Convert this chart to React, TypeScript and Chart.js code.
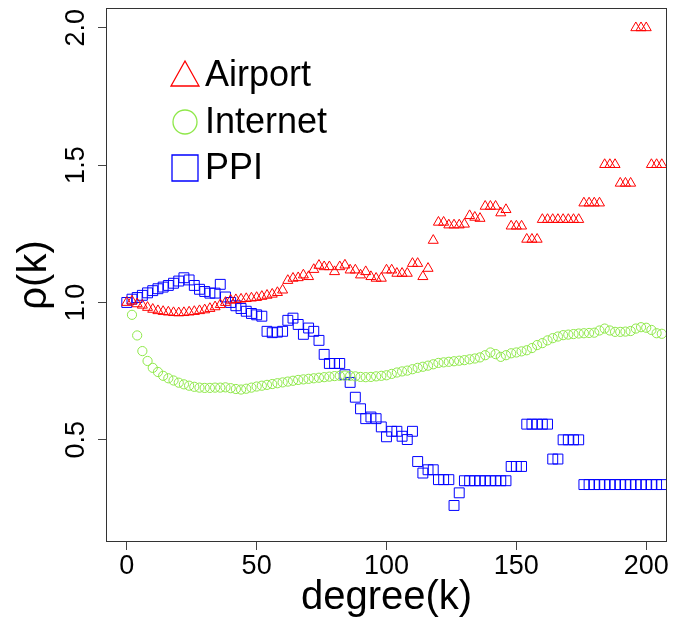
import React, { useEffect, useRef } from 'react';
import { Chart, registerables } from 'chart.js';

Chart.register(...registerables);

const degrees = [
  0, 2, 4, 6, 8, 10, 12, 14, 16, 18, 20, 22, 24, 26, 28, 30, 32, 34, 36, 38,
  40, 42, 44, 46, 48, 50, 52, 54, 56, 58, 60, 62, 64, 66, 68, 70, 72, 74, 76, 78,
  80, 82, 84, 86, 88, 90, 92, 94, 96, 98, 100, 102, 104, 106, 108, 110, 112, 114, 116, 118,
  120, 122, 124, 126, 128, 130, 132, 134, 136, 138, 140, 142, 144, 146, 148, 150, 152, 154, 156, 158,
  160, 162, 164, 166, 168, 170, 172, 174, 176, 178, 180, 182, 184, 186, 188, 190, 192, 194, 196, 198,
  200, 202, 204, 206,
];

const airport = [
  1.0, 1.005, 0.995, 0.99, 0.982, 0.975, 0.97, 0.967, 0.965, 0.963, 0.962, 0.963, 0.965, 0.967, 0.97, 0.973, 0.978, 0.984, 0.992, 1.0,
  1.008, 1.01, 1.012, 1.014, 1.016, 1.018, 1.022, 1.026, 1.03, 1.036, 1.045, 1.08, 1.088, 1.09, 1.1, 1.094, 1.12, 1.135, 1.13, 1.13,
  1.112, 1.13, 1.136, 1.118, 1.118, 1.1, 1.112, 1.094, 1.088, 1.088, 1.118, 1.118, 1.106, 1.106, 1.106, 1.142, 1.142, 1.094, 1.124, 1.226,
  1.292, 1.292, 1.282, 1.282, 1.282, 1.285, 1.316, 1.31, 1.306, 1.35, 1.35, 1.35, 1.326, 1.338, 1.278, 1.278, 1.278, 1.23, 1.23, 1.23,
  1.302, 1.302, 1.302, 1.302, 1.302, 1.302, 1.302, 1.302, 1.362, 1.362, 1.362, 1.362, 1.502, 1.502, 1.502, 1.434, 1.434, 1.434, 2.0, 2.0,
  2.0, 1.502, 1.502, 1.502,
];

const internet = [
  null, 0.955, 0.88, 0.823, 0.787, 0.762, 0.747, 0.733, 0.724, 0.716, 0.708, 0.702, 0.697, 0.693, 0.69, 0.689, 0.689, 0.69, 0.69, 0.691,
  0.688, 0.685, 0.683, 0.686, 0.69, 0.694, 0.697, 0.7, 0.703, 0.706, 0.709, 0.712, 0.715, 0.718, 0.72, 0.722, 0.724, 0.726, 0.728, 0.73,
  0.732, 0.733, 0.734, 0.733, 0.731, 0.729, 0.728, 0.729, 0.731, 0.733, 0.735, 0.74, 0.745, 0.749, 0.752, 0.757, 0.762, 0.766, 0.77, 0.775,
  0.78, 0.782, 0.784, 0.786, 0.788, 0.79, 0.793, 0.796, 0.8, 0.808, 0.818, 0.812, 0.802, 0.808, 0.815, 0.818, 0.822, 0.826, 0.834, 0.845,
  0.852, 0.862, 0.87, 0.876, 0.881, 0.883, 0.885, 0.887, 0.888, 0.889, 0.89, 0.898, 0.905, 0.898, 0.893, 0.893, 0.894, 0.896, 0.905, 0.91,
  0.908, 0.9, 0.888, 0.886,
];

const ppi = [
  1.0, 1.012, 1.018, 1.026, 1.035, 1.043, 1.05, 1.056, 1.062, 1.07, 1.078, 1.09, 1.082, 1.062, 1.048, 1.04, 1.034, 1.034, 1.066, 1.02,
  1.0, 0.988, 0.978, 0.968, 0.96, 0.955, 0.95, 0.895, 0.89, 0.892, 0.895, 0.935, 0.943, 0.92, 0.884, 0.907, 0.895, 0.862, 0.811, 0.778,
  0.778, 0.778, 0.737, 0.709, 0.655, 0.613, 0.577, 0.583, 0.577, 0.547, 0.511, 0.531, 0.531, 0.513, 0.501, 0.531, 0.421, 0.379, 0.391, 0.391,
  0.355, 0.355, 0.355, 0.261, 0.307, 0.351, 0.351, 0.351, 0.351, 0.351, 0.351, 0.351, 0.351, 0.351, 0.403, 0.403, 0.403, 0.557, 0.557, 0.557,
  0.557, 0.557, 0.43, 0.43, 0.5, 0.5, 0.5, 0.5, 0.337, 0.337, 0.337, 0.337, 0.337, 0.337, 0.337, 0.337, 0.337, 0.337, 0.337, 0.337,
  0.337, 0.337, 0.337, 0.337,
];

const xTicks = [0, 50, 100, 150, 200];
const yTicks = [0.5, 1.0, 1.5, 2.0];
const seriesNames = ['Airport', 'Internet', 'PPI'];
const seriesColors = ['#FF0000', '#8FE84A', '#0000FF'];
const seriesShapes = ['triangle', 'circle', 'rect'];

const FONT = '"Liberation Sans", Arial, Helvetica, sans-serif';

export default function App() {
  const ref = useRef<HTMLCanvasElement>(null);

  useEffect(() => {
    document.body.style.margin = '0';
    const canvas = ref.current;
    if (!canvas) return;

    const toPoints = (ys: (number | null)[]) =>
      degrees.map((x, i) => ({ x, y: ys[i] })).filter((p) => p.y !== null);

    const boxPlugin = {
      id: 'rbox',
      afterDatasetsDraw(chart: any) {
        const { ctx, chartArea: a } = chart;
        ctx.save();
        ctx.strokeStyle = '#333';
        ctx.lineWidth = 1;
        ctx.strokeRect(Math.round(a.left) + 0.5, Math.round(a.top) + 0.5,
          Math.round(a.right - a.left) - 1, Math.round(a.bottom - a.top) - 1);
        ctx.restore();
      },
    };

    const legendPlugin = {
      id: 'rlegend',
      afterDraw(chart: any) {
        const ctx = chart.ctx;
        ctx.save();
        const cx = 185;
        const rows = [75, 122, 168];
        seriesNames.forEach((name, i) => {
          const cy = rows[i];
          ctx.strokeStyle = seriesColors[i];
          ctx.lineWidth = 1.3;
          ctx.beginPath();
          if (seriesShapes[i] === 'triangle') {
            ctx.moveTo(cx, cy - 14);
            ctx.lineTo(cx - 14, cy + 11);
            ctx.lineTo(cx + 14, cy + 11);
            ctx.closePath();
          } else if (seriesShapes[i] === 'circle') {
            ctx.arc(cx, cy, 12, 0, Math.PI * 2);
          } else {
            ctx.rect(cx - 13, cy - 13, 26, 26);
          }
          ctx.stroke();
          ctx.fillStyle = '#000';
          ctx.font = `36px ${FONT}`;
          ctx.textBaseline = 'middle';
          ctx.textAlign = 'left';
          ctx.fillText(name, 205, cy + 1);
        });
        ctx.restore();
      },
    };

    const radii = [5.8, 4.6, 7];

    const chart = new Chart(canvas, {
      type: 'scatter',
      data: {
        datasets: [airport, internet, ppi].map((ys, i) => ({
          label: seriesNames[i],
          data: toPoints(ys),
          pointStyle: seriesShapes[i] as any,
          pointRadius: radii[i],
          pointHoverRadius: radii[i],
          pointBorderColor: seriesColors[i],
          pointBackgroundColor: 'rgba(0,0,0,0)',
          pointBorderWidth: 1,
          borderColor: seriesColors[i],
          backgroundColor: 'rgba(0,0,0,0)',
          showLine: false,
        })),
      },
      options: {
        responsive: false,
        animation: false,
        devicePixelRatio: 1,
        events: [],
        layout: { padding: { top: 5, right: 7, left: 0, bottom: 0 } },
        plugins: {
          legend: { display: false },
          tooltip: { enabled: false },
        },
        scales: {
          x: {
            type: 'linear',
            min: -8,
            max: 208,
            afterBuildTicks: (s: any) => {
              s.ticks = xTicks.map((v) => ({ value: v }));
            },
            afterFit: (s: any) => {
              s.height = 80;
              s.paddingLeft = 0;
              s.paddingRight = 0;
            },
            grid: {
              display: true,
              drawOnChartArea: false,
              drawTicks: true,
              tickLength: 8,
              color: '#444',
              lineWidth: 1,
            },
            border: { display: false },
            ticks: {
              font: { family: FONT, size: 27 },
              color: '#000',
              padding: 0,
              maxRotation: 0,
              autoSkip: false,
              callback: (v: any) => String(v),
            },
            title: {
              display: true,
              text: 'degree(k)',
              font: { family: FONT, size: 40 },
              color: '#000',
              padding: 0,
            },
          },
          y: {
            type: 'linear',
            min: 0.128,
            max: 2.072,
            afterBuildTicks: (s: any) => {
              s.ticks = yTicks.map((v) => ({ value: v }));
            },
            afterFit: (s: any) => {
              s.width = 106;
              s.paddingTop = 0;
              s.paddingBottom = 0;
            },
            grid: {
              display: true,
              drawOnChartArea: false,
              drawTicks: true,
              tickLength: 8,
              color: '#444',
              lineWidth: 1,
            },
            border: { display: false },
            ticks: {
              font: { family: FONT, size: 27 },
              color: '#000',
              padding: 3,
              minRotation: 90,
              maxRotation: 90,
              crossAlign: 'center',
              autoSkip: false,
              callback: (v: any) => Number(v).toFixed(1),
            },
            title: {
              display: true,
              text: 'ρ(k)',
              font: { family: FONT, size: 40 },
              color: '#000',
              padding: { top: 11, bottom: 0 },
            },
          },
        },
      },
      plugins: [boxPlugin, legendPlugin],
    });

    return () => chart.destroy();
  }, []);

  return <canvas ref={ref} width={675} height={622} style={{ display: 'block', width: 675, height: 622 }} />;
}
